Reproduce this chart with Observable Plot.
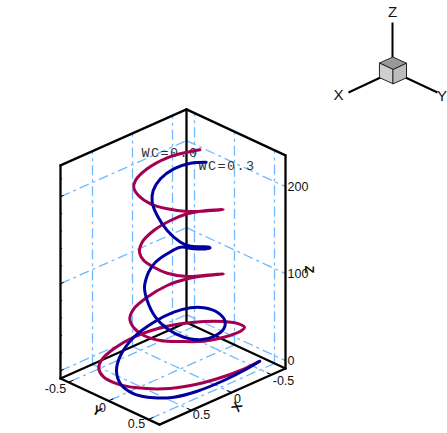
<!DOCTYPE html>
<html><head><meta charset="utf-8">
<script src="https://cdn.jsdelivr.net/npm/d3@7"></script>
<script src="https://cdn.jsdelivr.net/npm/@observablehq/plot@0.6"></script>
<style>html,body{margin:0;padding:0;background:#fff}svg{display:block}.wclabel text{letter-spacing:1.4px}</style>
</head><body><div id="chart"></div>
<script>
// Axis ranges and ticks of the 3D box
const xRange = [-0.675, 0.9];
const yRange = [-0.6, 0.6375];
const zRange = [-9, 236];
const xTicks = [-0.5, 0, 0.5];
const yTicks = [-0.5, 0, 0.5];
const zTicks = [0, 100, 200];
const zMinorTicks = [20, 40, 60, 80, 120, 140, 160, 180, 220];

// Helix traces (view coordinates)
const wc00X = [199.3,186.7,166.7,146.7,135,133.3,138,150,166.7,186.7,203,222.7,200,186.7,170,153.3,141.7,139,143.3,153.3,166.7,186.7,203,222.7,200,186.7,166.7,146.7,133.3,129.3,133.3,143.3,160,180,203.3,223.3,240,244,238.3,223.3,203.3,180,156.7,133.3,113.3,100.7,98.3,103.3,116.7,136.7,163.3,190,216.7,240,258.3];
const wc00Y = [149.3,151.7,157.3,168.3,180,187.3,195,203.3,208.3,211,210.7,209,210.7,213.3,220,230,241.7,251.7,260,266.7,272.7,276,275,273.3,275.7,278.3,285,296.7,308.3,318.3,327.3,335,340,341,340.7,336.7,330.7,326.7,323.3,321,321,323.3,328.3,336.7,348.3,360,368.3,376.7,383.3,387.3,388.3,385,378.3,370,361];
const wc03X = [205.7,190,173.3,160,152.7,151.7,156.7,166.7,180,190,200,209,209.5,204,193,180,166.7,155,150,146.7,144,146.7,155,166.7,183.3,200,213.3,223.3,224.3,216.7,203.3,190,173.3,153.3,133.3,120,116,120,133.3,153.3,173.3,196.7,223.3,243.3,259.3];
const wc03Y = [161.7,162.7,168.3,178.3,190,201.7,215,230,241.7,245.7,246.3,246.8,247.7,248.5,248.3,246.7,253.3,261.7,268.3,275,286.7,300,316.7,328.3,336.7,339.3,336,328.3,320,311.7,307.3,307.3,311.7,321.7,336.7,355,370,383.3,393.3,397.3,396.7,390.7,380,370,360.7];

// Orientation triad (view coordinates)
const triadAxisX = [392,392,348,380,437,405];
const triadAxisY = [22,57,92,77,92,77];
const cubeFaces = ["top","left","right"];
const cubeFaceColors = ["#999999","#cfcfcf","#bcbcbc"];
const cubeFaceX = [[392.7,406,392.7,379.3],[379.3,392.7,392.7,379.3],[392.7,406,406,392.7]];
const cubeFaceY = [[56.7,62.7,69,62.7],[62.7,69,83.3,77.3],[69,62.7,77.3,83.3]];

const gridColor = "#70b8ff";
const curveColors = {"WC=0.0":"#a50050","WC=0.3":"#0000a0"};

// Tick label nudges from the axis line
const xLabelDx = [12,6,10], xLabelDy = [6,6,5];
const yLabelDx = [-13,-6,-12], yLabelDy = [7,7,5];

// orthographic projection of the box onto the page
const vx = (X,Y) => 180 - 80*X + 80*Y;
const vy = (X,Y,Z) => 322 + 35.6*(X-xRange[0]) + 37.2*(Y-yRange[0]) - 0.87*(Z-zRange[0]);
const seg = (a,b) => ({x1:vx(a[0],a[1]),y1:vy(...a),x2:vx(b[0],b[1]),y2:vy(...b)});

const [x0,x1]=xRange,[y0,y1]=yRange,[z0,z1]=zRange;
const grid = [];
for (const t of xTicks){ grid.push(seg([t,y0,z0],[t,y0,z1])); grid.push(seg([t,y0,z0],[t,y1,z0])); }
for (const t of yTicks){ grid.push(seg([x0,t,z0],[x0,t,z1])); grid.push(seg([x0,t,z0],[x1,t,z0])); }
for (const t of zTicks){ grid.push(seg([x1,y0,t],[x0,y0,t])); grid.push(seg([x0,y0,t],[x0,y1,t])); }

const box = [
 seg([x1,y0,z0],[x1,y0,z1]), seg([x0,y0,z0],[x0,y0,z1]), seg([x0,y1,z0],[x0,y1,z1]),
 seg([x1,y0,z1],[x0,y0,z1]), seg([x0,y0,z1],[x0,y1,z1]),
 seg([x0,y0,z0],[x1,y0,z0]), seg([x0,y0,z0],[x0,y1,z0]),
 seg([x1,y0,z0],[x1,y1,z0]), seg([x0,y1,z0],[x1,y1,z0])
];
const ticks = [];
for (const t of zTicks) ticks.push(seg([x1,y0,t],[x1-0.04,y0,t]));
for (const t of zMinorTicks) ticks.push(seg([x1,y0,t],[x1-0.02,y0,t]));
for (const t of xTicks) ticks.push(seg([t,y1,z0],[t,y1-0.06,z0]));
for (const t of yTicks) ticks.push(seg([x1,t,z0],[x1-0.06,t,z0]));

const cube = cubeFaces.flatMap((f,i)=>cubeFaceX[i].map((v,j)=>({f,x:v,y:cubeFaceY[i][j]})));
const triad = [0,2,4].map(i=>({x1:triadAxisX[i],y1:triadAxisY[i],x2:triadAxisX[i+1],y2:triadAxisY[i+1]}));

const tickFont = {fontFamily:"Liberation Sans, Arial, sans-serif",fontSize:12.5,fill:"#111"};
const xLabels = xTicks.map((t,i)=>({t:String(t),x:vx(t,y1)+xLabelDx[i],y:vy(t,y1,z0)+xLabelDy[i]}));
const yLabels = yTicks.map((t,i)=>({t:String(t),x:vx(x1,t)+yLabelDx[i],y:vy(x1,t,z0)+yLabelDy[i]}));
const zLabels = zTicks.map(t=>({t:String(t),x:287,y:vy(x0,y1,t)}));
const monoFont = {fontFamily:"Liberation Mono, monospace",fontSize:13.5,fill:"#333",textAnchor:"start",className:"wclabel"};
const titleFont = {fontFamily:"Liberation Sans, sans-serif",fontSize:13,fontWeight:"bold",fill:"#111"};
const triadFont = {fontFamily:"Liberation Sans, sans-serif",fontSize:15,fill:"#111"};

const chart = Plot.plot({
  width:447,height:433,margin:0,
  x:{domain:[0,447],axis:null},y:{domain:[433,0],axis:null},
  style:{background:"#fff"},
  marks:[
    Plot.link(grid,{x1:"x1",y1:"y1",x2:"x2",y2:"y2",stroke:gridColor,strokeWidth:1.3,strokeDasharray:"10 4 3 4"}),
    Plot.text(["WC=0.0"],{x:[141],y:[152],text:d=>d,...monoFont}),
    Plot.text(["WC=0.3"],{x:[198],y:[165],text:d=>d,...monoFont}),
    Plot.link(ticks,{x1:"x1",y1:"y1",x2:"x2",y2:"y2",stroke:"#000",strokeWidth:1}),
    Plot.link(box,{x1:"x1",y1:"y1",x2:"x2",y2:"y2",stroke:"#000",strokeWidth:2.3,strokeLinecap:"round"}),
    Plot.line(wc00X.map((v,i)=>({x:v,y:wc00Y[i]})),{x:"x",y:"y",stroke:curveColors["WC=0.0"],strokeWidth:3,curve:"catmull-rom"}),
    Plot.line(wc03X.map((v,i)=>({x:v,y:wc03Y[i]})),{x:"x",y:"y",stroke:curveColors["WC=0.3"],strokeWidth:3,curve:"catmull-rom"}),
    Plot.text(xLabels,{x:"x",y:"y",text:"t",...tickFont}),
    Plot.text(yLabels,{x:"x",y:"y",text:"t",...tickFont}),
    Plot.text(zLabels,{x:"x",y:"y",text:"t",textAnchor:"start",...tickFont}),
    Plot.text(["X"],{x:[236.5],y:[406.5],text:d=>d,rotate:-60,...titleFont}),
    Plot.text(["Y"],{x:[96.5],y:[410.5],text:d=>d,rotate:30,...titleFont}),
    Plot.text(["Z"],{x:[309],y:[269],text:d=>d,rotate:90,...titleFont}),
    Plot.link(triad,{x1:"x1",y1:"y1",x2:"x2",y2:"y2",stroke:"#000",strokeWidth:2}),
    ...cubeFaces.map((f,i)=>Plot.line(cube,{filter:d=>d.f===f,x:"x",y:"y",fill:cubeFaceColors[i],stroke:"#222",strokeWidth:1,curve:"linear-closed"})),
    Plot.text(["Z"],{x:[392],y:[12],text:d=>d,...triadFont}),
    Plot.text(["X"],{x:[338],y:[95],text:d=>d,...triadFont}),
    Plot.text(["Y"],{x:[441.5],y:[96],text:d=>d,...triadFont})
  ]
});
document.getElementById("chart").append(chart);
</script></body></html>
